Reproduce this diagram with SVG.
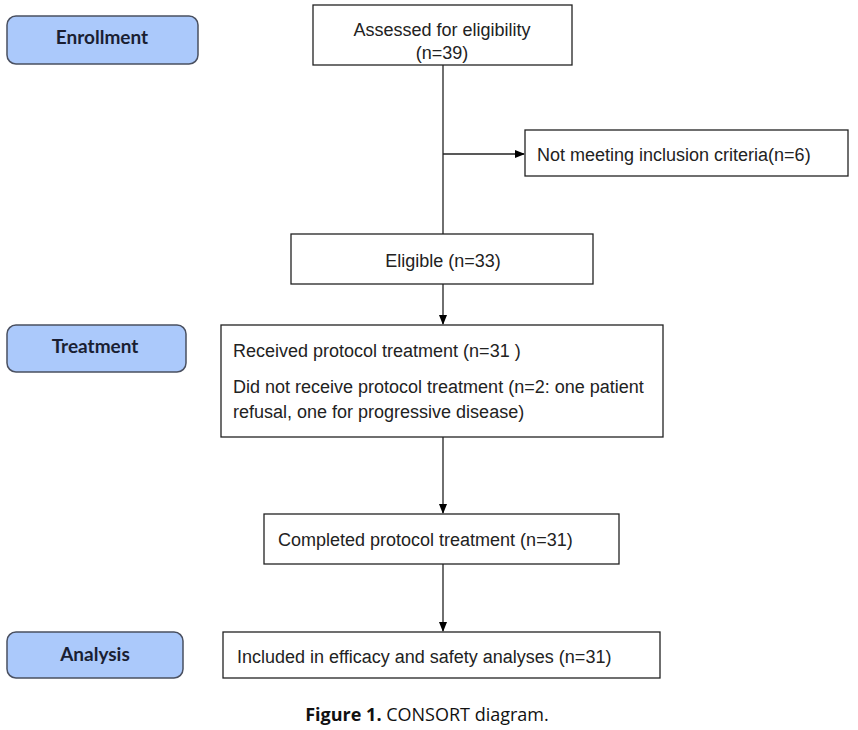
<svg xmlns="http://www.w3.org/2000/svg" width="858" height="730" viewBox="0 0 858 730">
<defs>
<marker id="arr" markerWidth="10" markerHeight="10" refX="9" refY="5" orient="auto" markerUnits="userSpaceOnUse">
<path d="M0,1 L10,5 L0,9 Z" fill="#000"/>
</marker>
<style>
.lbl rect{fill:#abc9fb;stroke:#4a5060;stroke-width:1.5}
.lbl text{font-family:Lato,"Open Sans",sans-serif;font-weight:bold;font-size:19px;fill:#1a1f33;text-anchor:middle}
.box rect{fill:#fff;stroke:#222;stroke-width:1.3}
.box text{font-family:"Liberation Sans",Arial,sans-serif;font-size:18px;fill:#222}
.c{text-anchor:middle}
.conn line{stroke:#222;stroke-width:1.3}
.cap{font-family:"Open Sans","DejaVu Sans",sans-serif;font-size:18px;fill:#111}
</style>
</defs>
<rect width="858" height="730" fill="#fff"/>
<g class="conn">
<line x1="443" y1="65" x2="443" y2="234"/>
<line x1="443" y1="154" x2="524" y2="154" marker-end="url(#arr)"/>
<line x1="443" y1="284" x2="443" y2="324" marker-end="url(#arr)"/>
<line x1="443" y1="437" x2="443" y2="513" marker-end="url(#arr)"/>
<line x1="443" y1="564" x2="443" y2="631" marker-end="url(#arr)"/>
</g>
<g id="enrollment" class="lbl"><rect x="7" y="16" width="191" height="48" rx="9"/><text x="102" y="44">Enrollment</text></g>
<g id="treatment" class="lbl"><rect x="7" y="325" width="179" height="47" rx="9"/><text x="95" y="353">Treatment</text></g>
<g id="analysis" class="lbl"><rect x="7" y="632" width="176" height="46" rx="9"/><text x="95" y="661">Analysis</text></g>
<g id="assessed" class="box"><rect x="313" y="5" width="259" height="60"/><text class="c" x="442" y="36">Assessed for eligibility</text><text class="c" x="442" y="59">(n=39)</text></g>
<g id="notmeeting" class="box"><rect x="525" y="130" width="323" height="46"/><text x="537" y="161">Not meeting inclusion criteria(n=6)</text></g>
<g id="eligible" class="box"><rect x="291" y="234" width="302" height="50"/><text class="c" x="443" y="267">Eligible (n=33)</text></g>
<g id="received" class="box"><rect x="221" y="325" width="442" height="112"/><text x="233" y="357">Received protocol treatment (n=31 )</text><text x="233" y="393">Did not receive protocol treatment (n=2: one patient</text><text x="233" y="418">refusal, one for progressive disease)</text></g>
<g id="completed" class="box"><rect x="264" y="514" width="355" height="50"/><text x="278" y="546">Completed protocol treatment (n=31)</text></g>
<g id="included" class="box"><rect x="223" y="632" width="437" height="46"/><text x="237" y="663">Included in efficacy and safety analyses (n=31)</text></g>
<text class="cap" x="427" y="721" text-anchor="middle"><tspan font-weight="bold">Figure 1.</tspan> CONSORT diagram.</text>
</svg>
